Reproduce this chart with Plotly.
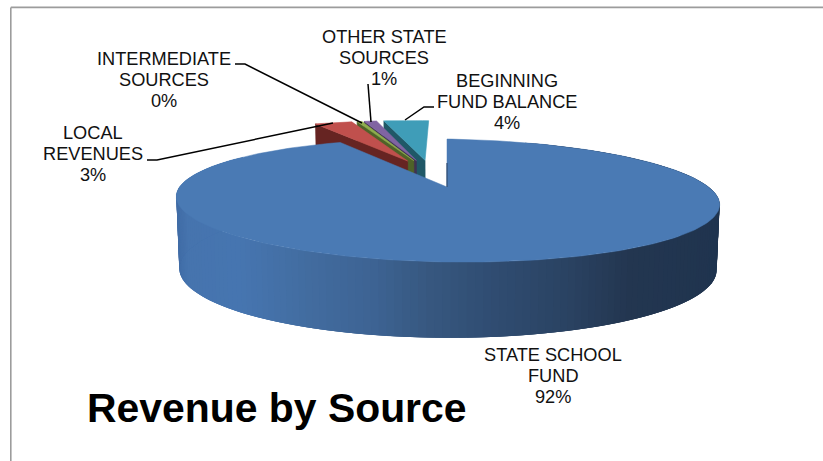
import numpy as np
import plotly.graph_objects as go

# Revenue shares in percent, clockwise from twelve o'clock
sources = ["STATE SCHOOL FUND", "LOCAL REVENUES", "INTERMEDIATE SOURCES",
           "OTHER STATE SOURCES", "BEGINNING FUND BALANCE"]
shares = [92.0, 3.0, 0.4, 1.0, 3.6]
top_colors = ["#4A7AB4", "#C0504D", "#8FAE4C", "#8064A2", "#3F9DB8"]
side_colors = ["#2F4B70", "#662422", "#4F6228", "#403152", "#205867"]

# Label text per slice: the wrapped name lines; the percent line is added from shares
label_lines = [["STATE SCHOOL", "FUND"], ["LOCAL", "REVENUES"], ["INTERMEDIATE", "SOURCES"],
               ["OTHER STATE", "SOURCES"], ["BEGINNING", "FUND BALANCE"]]
label_centers = [(553, 355), (92.5, 133), (164, 59), (384, 37), (507, 81)]
LINE_STEP = 21

# Elbow leader lines from labels to slices
leaders = [
    ([147, 157, 333], [160, 160, 123]),
    ([235, 245, 362], [64, 64, 123]),
    ([368, 371], [84, 122]),
    ([434, 424, 405], [107, 107, 120]),
]

# Gradient of the front wall as a function of screen position
wall_x = [176, 186, 240, 310, 373, 427, 500, 570, 630, 721]
wall_col = [(64, 108, 166), (70, 116, 174), (70, 117, 176), (66, 108, 159), (61, 99, 147),
            (55, 88, 128), (47, 75, 112), (42, 66, 98), (35, 54, 80), (31, 52, 79)]

# Projection of the tilted, perspective disc
CX, CY = 447.0, 187.0
RX, RY = 266.0, 58.5
LEFT_SCALE = 0.993
PERSPECTIVE = 0.2195
TILT = 0.0147
DEPTH = 67.0
BOTTOM_SHRINK = 0.989
EXPLODE = 0.255


def project(u, v, bottom=False):
    u, v = np.asarray(u, float), np.asarray(v, float)
    s = 1.0 / (1.0 + PERSPECTIVE * v)
    x = RX * u * s * np.where(u < 0, LEFT_SCALE, 1.0)
    y = -RY * v * s + TILT * x
    if bottom:
        y = y + DEPTH * np.sqrt(s) * (1 - 0.044 * x / 272.0)
        x = x * BOTTOM_SHRINK
    return CX + x, CY + y


def polygon(xs, ys, fill, line_width=0.6):
    return go.Scatter(x=np.round(xs, 2), y=np.round(ys, 2), mode="lines", fill="toself",
                      fillcolor=fill, line=dict(color=fill, width=line_width),
                      hoverinfo="skip", showlegend=False)


edges = np.cumsum([0.0] + shares) / sum(shares) * 2 * np.pi
mid = (edges[:-1] + edges[1:]) / 2
# Every slice is pulled out along its bisector; the big slice stays the reference
off_u = EXPLODE * (np.sin(mid) - np.sin(mid[0]))
off_v = EXPLODE * (np.cos(mid) - np.cos(mid[0]))

fig = go.Figure()

# Small slices back to front, right to left
for i in [4, 3, 2, 1]:
    t = np.linspace(edges[i], edges[i + 1], 30)
    rim_u, rim_v = np.sin(t) + off_u[i], np.cos(t) + off_v[i]
    apex = (off_u[i], off_v[i])
    # left radial face
    tx0, ty0 = project(rim_u[0], rim_v[0])
    bx0, by0 = project(rim_u[0], rim_v[0], True)
    tx1, ty1 = project(*apex)
    bx1, by1 = project(*apex, True)
    fig.add_trace(polygon([tx0, tx1, bx1, bx0, tx0], [ty0, ty1, by1, by0, ty0], side_colors[i]))
    # top face
    rx, ry = project(rim_u, rim_v)
    fig.add_trace(polygon(np.r_[tx1, rx, tx1], np.r_[ty1, ry, ty1], top_colors[i]))

# Big slice: shaded wall strips first, each overlapping the next, then the top face
t = np.linspace(edges[0], edges[1], 241)
u, v = np.sin(t), np.cos(t)
tx, ty = project(u, v)
bx, by = project(u, v, True)
for k in range(15, len(t) - 25):
    xm = (tx[k] + tx[k + 1]) / 2
    rgb = [int(round(np.interp(xm, wall_x, [c[j] for c in wall_col]))) for j in range(3)]
    j = k + 3
    fig.add_trace(go.Scatter(x=np.round([tx[k], tx[j], bx[j], bx[k], tx[k]], 2),
                             y=np.round([ty[k], ty[j], by[j], by[k], ty[k]], 2),
                             mode="lines", fill="toself", line=dict(width=0),
                             fillcolor=f"rgb({rgb[0]},{rgb[1]},{rgb[2]})",
                             hoverinfo="skip", showlegend=False))
ax, ay = project(0, 0)
fig.add_trace(polygon(np.r_[ax, tx, ax], np.r_[ay, ty, ay], top_colors[0], 0.5))

# Dark sliver of the wall showing along the notch
nx, ny = project([0, 0], [0.0, 0.45])
fig.add_trace(go.Scatter(x=nx, y=ny, mode="lines", line=dict(color=side_colors[0], width=1.2),
                         hoverinfo="skip", showlegend=False))

for lx, ly in leaders:
    fig.add_trace(go.Scatter(x=lx, y=ly, mode="lines", line=dict(color="black", width=1.5),
                             hoverinfo="skip", showlegend=False))

annotations = []
for lines, share, (cx, cy) in zip(label_lines, shares, label_centers):
    for n, text in enumerate(lines + [f"{round(share)}%"]):
        annotations.append(dict(x=cx, y=cy + n * LINE_STEP, xref="x", yref="y", text=text,
                                showarrow=False, xanchor="center", yanchor="middle",
                                font=dict(family="Liberation Sans", size=18.2, color="#111111")))
annotations.append(dict(x=85, y=408, xref="x", yref="y", text="<b>Revenue by Source</b>",
                        showarrow=False, xanchor="left", yanchor="middle",
                        font=dict(family="Liberation Sans", size=40.9, color="black")))

frame = dict(color="#9C9C9C", width=1.6)
fig.update_layout(
    width=823, height=461, margin=dict(l=0, r=0, t=0, b=0),
    paper_bgcolor="white", plot_bgcolor="white", showlegend=False,
    xaxis=dict(range=[0, 823], visible=False, fixedrange=True),
    yaxis=dict(range=[461, 0], visible=False, fixedrange=True),
    annotations=annotations,
    shapes=[
        dict(type="line", x0=10.8, x1=10.8, y0=7.4, y1=461, xref="x", yref="y", line=frame),
        dict(type="line", x0=10.8, x1=823, y0=7.4, y1=7.4, xref="x", yref="y", line=frame),
    ],
)
fig.write_html("out.html", config=dict(displayModeBar=False))
